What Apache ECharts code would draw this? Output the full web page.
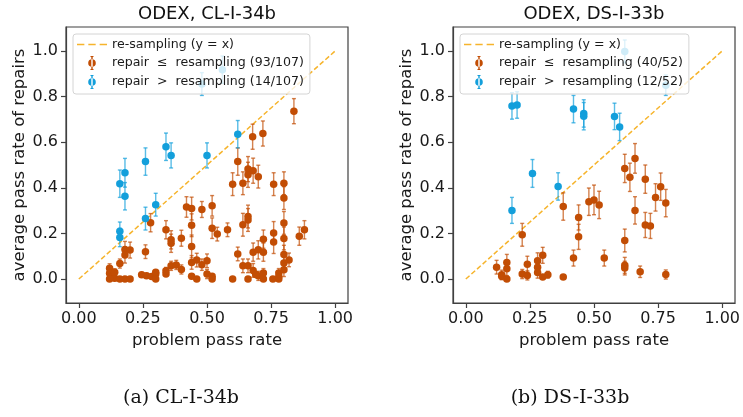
<!DOCTYPE html>
<html>
<head>
<meta charset="utf-8">
<script src="https://cdn.jsdelivr.net/npm/echarts@6/dist/echarts.min.js"></script>
<style>
  html, body {
    margin: 0;
    padding: 0;
    background: #fff;
  }
  #chart {
    width: 743px;
    height: 417px;
  }
</style>
</head>
<body>
<div id="chart"></div>
<script>
  // [problem pass rate, average pass rate of repairs, error]
  var clRepairLow = [
    [0.839, 0.736, 0.055], [0.678, 0.624, 0.055], [0.718, 0.638, 0.055], [0.62, 0.515, 0.06],
    [0.66, 0.482, 0.055], [0.68, 0.475, 0.055], [0.66, 0.457, 0.055], [0.70, 0.449, 0.05],
    [0.60, 0.416, 0.05], [0.64, 0.42, 0.05], [0.76, 0.416, 0.05], [0.80, 0.42, 0.05],
    [0.80, 0.355, 0.05], [0.66, 0.274, 0.05], [0.66, 0.259, 0.05], [0.64, 0.238, 0.05],
    [0.58, 0.216, 0.03], [0.80, 0.246, 0.05], [0.76, 0.202, 0.05], [0.76, 0.162, 0.05],
    [0.72, 0.175, 0.04], [0.80, 0.178, 0.05], [0.86, 0.188, 0.04], [0.88, 0.216, 0.04],
    [0.62, 0.11, 0.03], [0.68, 0.118, 0.04], [0.70, 0.128, 0.04], [0.72, 0.118, 0.04],
    [0.64, 0.058, 0.03], [0.66, 0.058, 0.03], [0.68, 0.038, 0.03], [0.70, 0.014, 0.02],
    [0.72, 0.026, 0.02], [0.72, 0.0, 0.01], [0.60, 0.0, 0.01], [0.66, 0.0, 0.01],
    [0.757, 0.0, 0.01], [0.78, 0.0, 0.01], [0.78, 0.026, 0.02], [0.80, 0.041, 0.03],
    [0.80, 0.07, 0.03], [0.80, 0.108, 0.04], [0.82, 0.084, 0.03], [0.42, 0.316, 0.045],
    [0.44, 0.309, 0.05], [0.48, 0.305, 0.035], [0.52, 0.321, 0.045], [0.52, 0.223, 0.045],
    [0.54, 0.197, 0.03], [0.44, 0.236, 0.05], [0.44, 0.143, 0.05], [0.34, 0.216, 0.04],
    [0.36, 0.172, 0.04], [0.36, 0.157, 0.04], [0.40, 0.179, 0.035], [0.28, 0.247, 0.04],
    [0.26, 0.12, 0.03], [0.18, 0.13, 0.035], [0.20, 0.127, 0.035], [0.18, 0.105, 0.035],
    [0.16, 0.068, 0.02], [0.12, 0.047, 0.02], [0.12, 0.025, 0.02], [0.125, 0.01, 0.01],
    [0.135, 0.015, 0.01], [0.14, 0.003, 0.01], [0.12, 0.0, 0.01], [0.18, 0.0, 0.005],
    [0.20, 0.0, 0.005], [0.245, 0.019, 0.01], [0.264, 0.015, 0.01], [0.284, 0.011, 0.01],
    [0.30, 0.022, 0.01], [0.30, 0.03, 0.01], [0.34, 0.022, 0.01], [0.34, 0.036, 0.015],
    [0.36, 0.058, 0.02], [0.38, 0.062, 0.02], [0.40, 0.042, 0.02], [0.44, 0.073, 0.03],
    [0.46, 0.083, 0.03], [0.48, 0.063, 0.025], [0.50, 0.08, 0.03], [0.44, 0.012, 0.01],
    [0.46, 0.0, 0.005], [0.50, 0.022, 0.02], [0.52, 0.012, 0.01], [0.52, 0.0, 0.005],
    [0.30, 0.0, 0.005], [0.14, 0.03, 0.015], [0.16, 0.0, 0.005], [0.69, 0.02, 0.01],
    [0.78, 0.01, 0.01]
  ]
  var clRepairHigh = [
    [0.48, 0.855, 0.05], [0.56, 0.918, 0.06], [0.62, 0.635, 0.06], [0.34, 0.58, 0.06],
    [0.36, 0.542, 0.055], [0.50, 0.542, 0.055], [0.26, 0.515, 0.06], [0.16, 0.418, 0.06],
    [0.18, 0.466, 0.063], [0.18, 0.363, 0.06], [0.30, 0.326, 0.05], [0.26, 0.265, 0.05],
    [0.16, 0.21, 0.04], [0.16, 0.182, 0.04]
  ]
  var dsRepairLow = [
    [0.66, 0.529, 0.065], [0.62, 0.485, 0.062], [0.64, 0.446, 0.062], [0.70, 0.438, 0.062],
    [0.74, 0.358, 0.06], [0.76, 0.405, 0.06], [0.78, 0.333, 0.06], [0.66, 0.301, 0.06],
    [0.70, 0.237, 0.055], [0.72, 0.233, 0.055], [0.62, 0.169, 0.05], [0.62, 0.06, 0.035],
    [0.62, 0.048, 0.03], [0.68, 0.032, 0.025], [0.78, 0.02, 0.02], [0.48, 0.339, 0.06],
    [0.50, 0.347, 0.065], [0.52, 0.325, 0.06], [0.38, 0.318, 0.06], [0.44, 0.27, 0.055],
    [0.44, 0.185, 0.055], [0.42, 0.092, 0.035], [0.54, 0.092, 0.035], [0.38, 0.009, 0.01],
    [0.22, 0.194, 0.05], [0.12, 0.052, 0.03], [0.14, 0.019, 0.02], [0.14, 0.012, 0.015],
    [0.16, 0.0, 0.01], [0.16, 0.073, 0.035], [0.16, 0.045, 0.03], [0.22, 0.022, 0.02],
    [0.24, 0.065, 0.035], [0.24, 0.016, 0.02], [0.28, 0.08, 0.035], [0.28, 0.052, 0.03],
    [0.28, 0.029, 0.025], [0.30, 0.104, 0.035], [0.30, 0.009, 0.01], [0.32, 0.019, 0.015]
  ]
  var dsRepairHigh = [
    [0.62, 0.998, 0.05], [0.78, 0.85, 0.045], [0.18, 0.759, 0.058], [0.20, 0.763, 0.058],
    [0.42, 0.745, 0.06], [0.46, 0.726, 0.06], [0.46, 0.714, 0.06], [0.58, 0.713, 0.058],
    [0.60, 0.667, 0.06], [0.26, 0.463, 0.061], [0.36, 0.406, 0.06], [0.18, 0.301, 0.057]
  ]
  var diagonal = [[0, 0], [1, 1]]
  var xTicks = [0, 0.25, 0.5, 0.75, 1]
  var yTicks = [0, 0.2, 0.4, 0.6, 0.8, 1]
  var titles = ['ODEX, CL-I-34b', 'ODEX, DS-I-33b']
  var captions = ['(a) CL-I-34b', '(b) DS-I-33b']
  var lineName = 're-sampling (y = x)'
  var lowNames = ['repair  \u2264  resampling (93/107)', 'repair  \u2264  resampling (40/52)']
  var highNames = ['repair  >  resampling (14/107)', 'repair  >  resampling (12/52)']

  var ORANGE = '#c24d04'
  var BLUE = '#139fdb'
  var YELLOW = '#f6b42c'
  var ICON = 'path://M2.5,0h3v1h-3z M3.3,0h1.4v14h-1.4z M2.5,13h3v1h-3z M4,3.2a3.8,3.8 0 1,0 0.01,0z'
  var DASH_ICON = 'path://M0,0h6.5v1.5h-6.5z M10,0h6.5v1.5h-6.5z M20,0h6.5v1.5h-6.5z'

  //误差线
  function errorBar (params, api) {
    var x = api.value(0)
    var y = api.value(1)
    var e = api.value(2)
    var top = api.coord([x, y + e])
    var bottom = api.coord([x, y - e])
    var cap = 2
    var style = {stroke: api.visual('color'), lineWidth: 1.4, opacity: 0.7}
    return {
      type: 'group',
      children: [
        {type: 'line', shape: {x1: top[0], y1: top[1], x2: bottom[0], y2: bottom[1]}, style: style},
        {type: 'line', shape: {x1: top[0] - cap, y1: top[1], x2: top[0] + cap, y2: top[1]}, style: style},
        {type: 'line', shape: {x1: bottom[0] - cap, y1: bottom[1], x2: bottom[0] + cap, y2: bottom[1]}, style: style}
      ]
    }
  }

  function xAxisOf (i) {
    return {
      gridIndex: i,
      type: 'value',
      min: -0.05,
      max: 1.05,
      name: 'problem pass rate',
      nameLocation: 'middle',
      nameGap: 27,
      nameTextStyle: {fontSize: 16.5, color: '#1a1a1a'},
      splitLine: {show: false},
      axisLine: {show: true, onZero: false, lineStyle: {color: '#404040', width: 1.2}},
      axisTick: {show: true, customValues: xTicks, length: 5, lineStyle: {color: '#404040', width: 1.2}},
      axisLabel: {
        customValues: xTicks, margin: 8, fontSize: 16, color: '#1a1a1a',
        formatter: function (v) { return v.toFixed(2) }
      }
    }
  }

  function yAxisOf (i) {
    return {
      gridIndex: i,
      type: 'value',
      min: -0.105,
      max: 1.105,
      name: 'average pass rate of repairs',
      nameLocation: 'middle',
      nameGap: 36,
      nameTextStyle: {fontSize: 16.5, color: '#1a1a1a'},
      splitLine: {show: false},
      axisLine: {show: true, onZero: false, lineStyle: {color: '#404040', width: 1.2}},
      axisTick: {show: true, customValues: yTicks, length: 5, lineStyle: {color: '#404040', width: 1.2}},
      axisLabel: {
        customValues: yTicks, margin: 8, fontSize: 16, color: '#1a1a1a',
        formatter: function (v) { return v.toFixed(1) }
      }
    }
  }

  function legendOf (i, left) {
    return {
      orient: 'vertical',
      left: left,
      top: 34,
      padding: [4, 6, 5, 4],
      itemWidth: 30,
      itemHeight: 14,
      itemGap: 5,
      backgroundColor: 'rgba(255,255,255,0.8)',
      borderColor: '#d4d4d4',
      borderWidth: 1,
      borderRadius: 3,
      textStyle: {fontSize: 12.6, color: '#1a1a1a'},
      data: [
        {name: lineName, icon: DASH_ICON, itemStyle: {color: YELLOW}},
        {name: lowNames[i], icon: ICON},
        {name: highNames[i], icon: ICON}
      ]
    }
  }

  function seriesOf (i, low, high) {
    return [
      {
        name: lineName,
        type: 'line',
        xAxisIndex: i,
        yAxisIndex: i,
        data: diagonal,
        symbol: 'none',
        z: 1,
        lineStyle: {color: YELLOW, width: 1.5, type: [5, 2.5]},
        itemStyle: {color: YELLOW}
      },
      {
        name: 'err-low-' + i,
        type: 'custom',
        xAxisIndex: i,
        yAxisIndex: i,
        data: low,
        encode: {x: 0, y: 1},
        itemStyle: {color: ORANGE},
        renderItem: errorBar,
        z: 2
      },
      {
        name: lowNames[i],
        type: 'scatter',
        xAxisIndex: i,
        yAxisIndex: i,
        data: low,
        symbolSize: 7.5,
        itemStyle: {color: ORANGE, opacity: 1},
        z: 2
      },
      {
        name: 'err-high-' + i,
        type: 'custom',
        xAxisIndex: i,
        yAxisIndex: i,
        data: high,
        encode: {x: 0, y: 1},
        itemStyle: {color: BLUE},
        renderItem: errorBar,
        z: 2
      },
      {
        name: highNames[i],
        type: 'scatter',
        xAxisIndex: i,
        yAxisIndex: i,
        data: high,
        symbolSize: 7.5,
        itemStyle: {color: BLUE, opacity: 1},
        z: 2
      }
    ]
  }

  function textOf (text, x, y, font) {
    return {
      type: 'text',
      x: x,
      y: y,
      style: {text: text, font: font, fill: '#111', textAlign: 'center', textVerticalAlign: 'middle'}
    }
  }

  var myChart = echarts.init(document.getElementById('chart'))
  var option = {
    animation: false,
    textStyle: {fontFamily: 'DejaVu Sans'},
    grid: [
      {left: 66, top: 27, width: 282, height: 276, show: true, borderColor: '#404040', borderWidth: 1.2},
      {left: 453, top: 27, width: 283, height: 276, show: true, borderColor: '#404040', borderWidth: 1.2}
    ],
    xAxis: [xAxisOf(0), xAxisOf(1)],
    yAxis: [yAxisOf(0), yAxisOf(1)],
    legend: [legendOf(0, 73), legendOf(1, 460)],
    series: seriesOf(0, clRepairLow, clRepairHigh).concat(seriesOf(1, dsRepairLow, dsRepairHigh)),
    graphic: [
      textOf(titles[0], 207, 14, '18px "DejaVu Sans"'),
      textOf(titles[1], 594, 14, '18px "DejaVu Sans"'),
      textOf(captions[0], 181, 398, '19px "DejaVu Serif"'),
      textOf(captions[1], 570, 398, '19px "DejaVu Serif"')
    ]
  }
  myChart.setOption(option, true)
</script>
</body>
</html>
